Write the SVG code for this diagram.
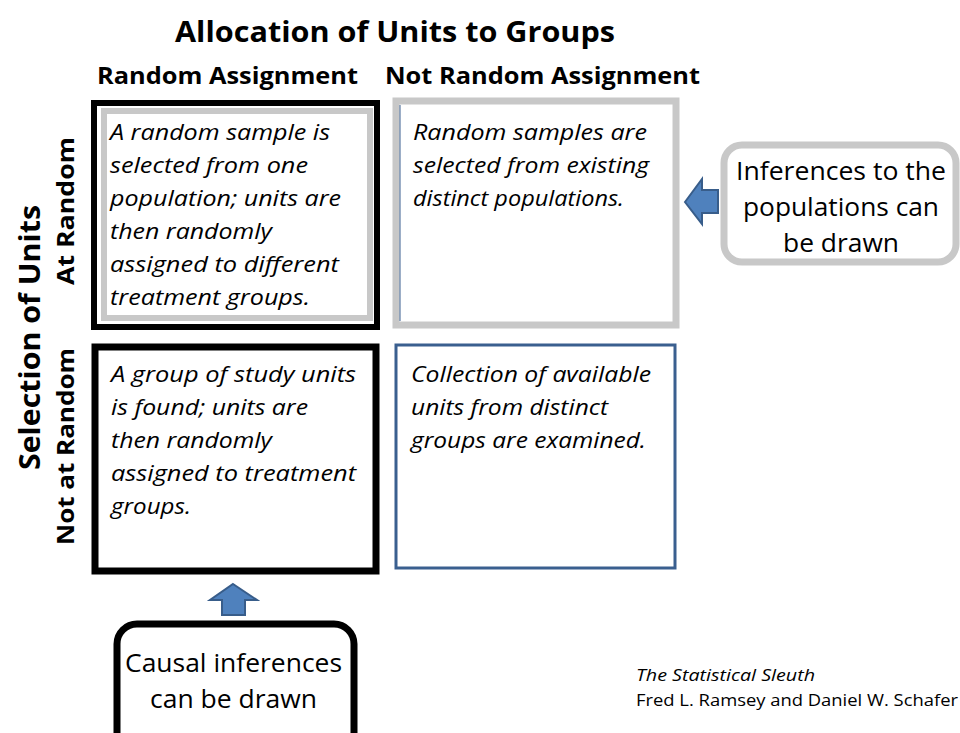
<svg xmlns="http://www.w3.org/2000/svg" width="960" height="733" viewBox="0 0 960 733">
<style>
text{font-family:"Open Sans","Noto Sans","Liberation Sans",sans-serif;fill:#000}
.h{font-weight:bold}
.t1{font-size:29px}
.t2{font-size:23px}
.body{font-size:22px;font-style:italic}
.call{font-size:25px}
.arrow{fill:#4f81bd;stroke:#385d8a;stroke-width:2;stroke-linejoin:miter}
</style>
<rect width="960" height="733" fill="#fff"/>
<g id="titles">
<text class="h t1" x="175" y="42" textLength="440" lengthAdjust="spacingAndGlyphs">Allocation of Units to Groups</text>
<text class="h t2" x="97" y="84" textLength="261" lengthAdjust="spacingAndGlyphs">Random Assignment</text>
<text class="h t2" x="385" y="84" textLength="315" lengthAdjust="spacingAndGlyphs">Not Random Assignment</text>
<text class="h t1" transform="translate(40,470) rotate(-90)" textLength="265" lengthAdjust="spacingAndGlyphs">Selection of Units</text>
<text class="h t2" transform="translate(74,285) rotate(-90)" textLength="148" lengthAdjust="spacingAndGlyphs">At Random</text>
<text class="h t2" transform="translate(74,545) rotate(-90)" textLength="197" lengthAdjust="spacingAndGlyphs">Not at Random</text>
</g>
<g id="box-rr">
<rect x="94" y="103" width="283" height="224" fill="#fff" stroke="#000" stroke-width="6"/>
<rect x="104" y="111" width="266" height="207" fill="#fff" stroke="#c8c8c8" stroke-width="6"/>
<text class="body" x="110" y="140" textLength="220" lengthAdjust="spacingAndGlyphs">A random sample is</text>
<text class="body" x="110" y="173" textLength="198" lengthAdjust="spacingAndGlyphs">selected from one</text>
<text class="body" x="110" y="206" textLength="231" lengthAdjust="spacingAndGlyphs">population; units are</text>
<text class="body" x="110" y="239" textLength="162" lengthAdjust="spacingAndGlyphs">then randomly</text>
<text class="body" x="110" y="272" textLength="229" lengthAdjust="spacingAndGlyphs">assigned to different</text>
<text class="body" x="110" y="305" textLength="200" lengthAdjust="spacingAndGlyphs">treatment groups.</text>
</g>
<g id="box-rn">
<rect x="396" y="101" width="280" height="224" fill="#fff" stroke="#c8c8c8" stroke-width="7"/>
<line x1="400" y1="105" x2="400" y2="321" stroke="#3a5f8f" stroke-width="1"/>
<text class="body" x="413" y="140" textLength="234" lengthAdjust="spacingAndGlyphs">Random samples are</text>
<text class="body" x="413" y="173" textLength="236" lengthAdjust="spacingAndGlyphs">selected from existing</text>
<text class="body" x="413" y="206" textLength="211" lengthAdjust="spacingAndGlyphs">distinct populations.</text>
</g>
<g id="box-nr">
<rect x="95" y="347" width="281" height="224" fill="#fff" stroke="#000" stroke-width="7"/>
<text class="body" x="111" y="382" textLength="245" lengthAdjust="spacingAndGlyphs">A group of study units</text>
<text class="body" x="111" y="415" textLength="197" lengthAdjust="spacingAndGlyphs">is found; units are</text>
<text class="body" x="111" y="448" textLength="161" lengthAdjust="spacingAndGlyphs">then randomly</text>
<text class="body" x="111" y="481" textLength="245" lengthAdjust="spacingAndGlyphs">assigned to treatment</text>
<text class="body" x="111" y="514" textLength="80" lengthAdjust="spacingAndGlyphs">groups.</text>
</g>
<g id="box-nn">
<rect x="396" y="345" width="279" height="223" fill="#fff" stroke="#3a5f8f" stroke-width="3"/>
<text class="body" x="411" y="382" textLength="240" lengthAdjust="spacingAndGlyphs">Collection of available</text>
<text class="body" x="411" y="415" textLength="197" lengthAdjust="spacingAndGlyphs">units from distinct</text>
<text class="body" x="411" y="448" textLength="235" lengthAdjust="spacingAndGlyphs">groups are examined.</text>
</g>
<g id="callout-pop">
<rect x="724" y="145" width="232" height="117" rx="18" fill="#fff" stroke="#c8c8c8" stroke-width="7"/>
<text class="call" x="736" y="180" textLength="210" lengthAdjust="spacingAndGlyphs">Inferences to the</text>
<text class="call" x="743" y="216" textLength="196" lengthAdjust="spacingAndGlyphs">populations can</text>
<text class="call" x="783" y="252" textLength="116" lengthAdjust="spacingAndGlyphs">be drawn</text>
</g>
<g id="callout-causal">
<rect x="117" y="624" width="237" height="130" rx="20" fill="#fff" stroke="#000" stroke-width="7"/>
<text class="call" x="125" y="672" textLength="217" lengthAdjust="spacingAndGlyphs">Causal inferences</text>
<text class="call" x="150" y="708" textLength="167" lengthAdjust="spacingAndGlyphs">can be drawn</text>
</g>
<g id="connectors">
<polygon class="arrow" points="685,202 702,179 702,190 718,190 718,213 702,213 702,224"/>
<polygon class="arrow" points="233,584 257,600 245,600 245,615 222,615 222,600 210,600"/>
</g>
<g id="credit">
<text x="636" y="681" font-size="17" font-style="italic" textLength="179" lengthAdjust="spacingAndGlyphs">The Statistical Sleuth</text>
<text x="636" y="706" font-size="17" textLength="322" lengthAdjust="spacingAndGlyphs">Fred L. Ramsey and Daniel W. Schafer</text>
</g>
</svg>
